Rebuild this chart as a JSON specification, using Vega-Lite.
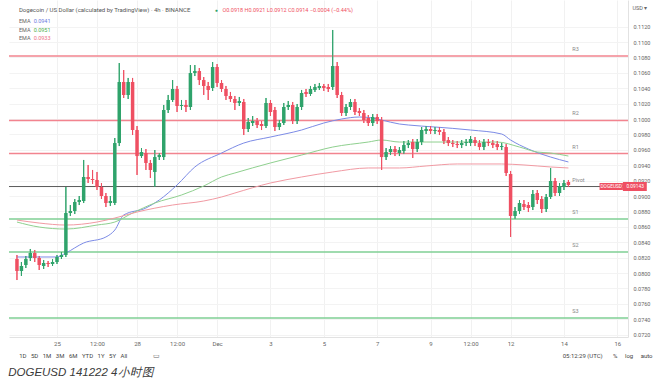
{
"$schema":"https://vega.github.io/schema/vega-lite/v6.json",
"width":619,"height":337,
"autosize":{"type":"pad"},
"padding":{"left":8,"top":0,"right":0,"bottom":0},
"background":"white",
"config":{"view":{"stroke":null},"font":"Roboto","axis":{"labelOverlap":false}},
"title":{"text":"DOGEUSD 141222 4小时图","orient":"bottom","anchor":"start","offset":7,"fontSize":11.5,"fontStyle":"italic","fontWeight":"normal","color":"#3a3a3a","font":"Liberation Sans"},
"datasets":{
"one":[{}],
"candles":[
{"t":"2022-11-23T12:00:00Z","o":0.08182,"h":0.08234,"l":0.07909,"c":0.08026},
{"t":"2022-11-23T16:00:00Z","o":0.08026,"h":0.08143,"l":0.07961,"c":0.08091},
{"t":"2022-11-23T20:00:00Z","o":0.08104,"h":0.08221,"l":0.08065,"c":0.08182},
{"t":"2022-11-24T00:00:00Z","o":0.08195,"h":0.08312,"l":0.08156,"c":0.08260},
{"t":"2022-11-24T04:00:00Z","o":0.08260,"h":0.08299,"l":0.08143,"c":0.08195},
{"t":"2022-11-24T08:00:00Z","o":0.08195,"h":0.08221,"l":0.08039,"c":0.08104},
{"t":"2022-11-24T12:00:00Z","o":0.08091,"h":0.08169,"l":0.08052,"c":0.08130},
{"t":"2022-11-24T16:00:00Z","o":0.08130,"h":0.08156,"l":0.08078,"c":0.08117},
{"t":"2022-11-24T20:00:00Z","o":0.08117,"h":0.08182,"l":0.08091,"c":0.08143},
{"t":"2022-11-25T00:00:00Z","o":0.08143,"h":0.08234,"l":0.08117,"c":0.08208},
{"t":"2022-11-25T04:00:00Z","o":0.08208,"h":0.08273,"l":0.08182,"c":0.08234},
{"t":"2022-11-25T08:00:00Z","o":0.08234,"h":0.09117,"l":0.08208,"c":0.08779},
{"t":"2022-11-25T12:00:00Z","o":0.08779,"h":0.08883,"l":0.08740,"c":0.08805},
{"t":"2022-11-25T16:00:00Z","o":0.08805,"h":0.08961,"l":0.08766,"c":0.08922},
{"t":"2022-11-25T20:00:00Z","o":0.08922,"h":0.09000,"l":0.08883,"c":0.08948},
{"t":"2022-11-26T00:00:00Z","o":0.08935,"h":0.09468,"l":0.08909,"c":0.09247},
{"t":"2022-11-26T04:00:00Z","o":0.09247,"h":0.09403,"l":0.09169,"c":0.09221},
{"t":"2022-11-26T08:00:00Z","o":0.09221,"h":0.09338,"l":0.09156,"c":0.09208},
{"t":"2022-11-26T12:00:00Z","o":0.09208,"h":0.09312,"l":0.09078,"c":0.09117},
{"t":"2022-11-26T16:00:00Z","o":0.09117,"h":0.09169,"l":0.08961,"c":0.09000},
{"t":"2022-11-26T20:00:00Z","o":0.09000,"h":0.09039,"l":0.08857,"c":0.08909},
{"t":"2022-11-27T00:00:00Z","o":0.08909,"h":0.09000,"l":0.08870,"c":0.08935},
{"t":"2022-11-27T04:00:00Z","o":0.08909,"h":0.09753,"l":0.08883,"c":0.09688},
{"t":"2022-11-27T08:00:00Z","o":0.09688,"h":0.10727,"l":0.09649,"c":0.10481},
{"t":"2022-11-27T12:00:00Z","o":0.10481,"h":0.10636,"l":0.10273,"c":0.10312},
{"t":"2022-11-27T16:00:00Z","o":0.10312,"h":0.10533,"l":0.10260,"c":0.10481},
{"t":"2022-11-27T20:00:00Z","o":0.10481,"h":0.10533,"l":0.09792,"c":0.09857},
{"t":"2022-11-28T00:00:00Z","o":0.09857,"h":0.09909,"l":0.09273,"c":0.09519},
{"t":"2022-11-28T04:00:00Z","o":0.09519,"h":0.09623,"l":0.09494,"c":0.09571},
{"t":"2022-11-28T08:00:00Z","o":0.09558,"h":0.09610,"l":0.09338,"c":0.09429},
{"t":"2022-11-28T12:00:00Z","o":0.09429,"h":0.09468,"l":0.09234,"c":0.09338},
{"t":"2022-11-28T16:00:00Z","o":0.09312,"h":0.09597,"l":0.09117,"c":0.09506},
{"t":"2022-11-28T20:00:00Z","o":0.09506,"h":0.09558,"l":0.09468,"c":0.09532},
{"t":"2022-11-29T00:00:00Z","o":0.09506,"h":0.10182,"l":0.09468,"c":0.10117},
{"t":"2022-11-29T04:00:00Z","o":0.10117,"h":0.10312,"l":0.10078,"c":0.10247},
{"t":"2022-11-29T08:00:00Z","o":0.10247,"h":0.10506,"l":0.10221,"c":0.10390},
{"t":"2022-11-29T12:00:00Z","o":0.10390,"h":0.10429,"l":0.10091,"c":0.10169},
{"t":"2022-11-29T16:00:00Z","o":0.10169,"h":0.10247,"l":0.10117,"c":0.10182},
{"t":"2022-11-29T20:00:00Z","o":0.10182,"h":0.10247,"l":0.10091,"c":0.10156},
{"t":"2022-11-30T00:00:00Z","o":0.10156,"h":0.10701,"l":0.10117,"c":0.10597},
{"t":"2022-11-30T04:00:00Z","o":0.10597,"h":0.10701,"l":0.10558,"c":0.10623},
{"t":"2022-11-30T08:00:00Z","o":0.10623,"h":0.10662,"l":0.10442,"c":0.10506},
{"t":"2022-11-30T12:00:00Z","o":0.10506,"h":0.10545,"l":0.10312,"c":0.10429},
{"t":"2022-11-30T16:00:00Z","o":0.10429,"h":0.10481,"l":0.10247,"c":0.10377},
{"t":"2022-11-30T20:00:00Z","o":0.10403,"h":0.10740,"l":0.10364,"c":0.10675},
{"t":"2022-12-01T00:00:00Z","o":0.10675,"h":0.10714,"l":0.10416,"c":0.10468},
{"t":"2022-12-01T04:00:00Z","o":0.10468,"h":0.10506,"l":0.10351,"c":0.10390},
{"t":"2022-12-01T08:00:00Z","o":0.10390,"h":0.10429,"l":0.10247,"c":0.10299},
{"t":"2022-12-01T12:00:00Z","o":0.10299,"h":0.10351,"l":0.10221,"c":0.10260},
{"t":"2022-12-01T16:00:00Z","o":0.10260,"h":0.10299,"l":0.10117,"c":0.10208},
{"t":"2022-12-01T20:00:00Z","o":0.10208,"h":0.10286,"l":0.10169,"c":0.10234},
{"t":"2022-12-02T00:00:00Z","o":0.10221,"h":0.10260,"l":0.09792,"c":0.09870},
{"t":"2022-12-02T04:00:00Z","o":0.09870,"h":0.10013,"l":0.09831,"c":0.09961},
{"t":"2022-12-02T08:00:00Z","o":0.09948,"h":0.10039,"l":0.09909,"c":0.09974},
{"t":"2022-12-02T12:00:00Z","o":0.09974,"h":0.10013,"l":0.09883,"c":0.09922},
{"t":"2022-12-02T16:00:00Z","o":0.09935,"h":0.09974,"l":0.09857,"c":0.09909},
{"t":"2022-12-02T20:00:00Z","o":0.09909,"h":0.10273,"l":0.09883,"c":0.10208},
{"t":"2022-12-03T00:00:00Z","o":0.10208,"h":0.10247,"l":0.10039,"c":0.10091},
{"t":"2022-12-03T04:00:00Z","o":0.10117,"h":0.10156,"l":0.09844,"c":0.09896},
{"t":"2022-12-03T08:00:00Z","o":0.09896,"h":0.09987,"l":0.09857,"c":0.09948},
{"t":"2022-12-03T12:00:00Z","o":0.09948,"h":0.10208,"l":0.09922,"c":0.10156},
{"t":"2022-12-03T16:00:00Z","o":0.10156,"h":0.10234,"l":0.10117,"c":0.10182},
{"t":"2022-12-03T20:00:00Z","o":0.10182,"h":0.10221,"l":0.09935,"c":0.09974},
{"t":"2022-12-04T00:00:00Z","o":0.09974,"h":0.10195,"l":0.09935,"c":0.10156},
{"t":"2022-12-04T04:00:00Z","o":0.10156,"h":0.10377,"l":0.10117,"c":0.10338},
{"t":"2022-12-04T08:00:00Z","o":0.10351,"h":0.10390,"l":0.10286,"c":0.10325},
{"t":"2022-12-04T12:00:00Z","o":0.10325,"h":0.10429,"l":0.10299,"c":0.10390},
{"t":"2022-12-04T16:00:00Z","o":0.10377,"h":0.10455,"l":0.10351,"c":0.10416},
{"t":"2022-12-04T20:00:00Z","o":0.10403,"h":0.10468,"l":0.10377,"c":0.10429},
{"t":"2022-12-05T00:00:00Z","o":0.10429,"h":0.10455,"l":0.10364,"c":0.10403},
{"t":"2022-12-05T04:00:00Z","o":0.10416,"h":0.10455,"l":0.10351,"c":0.10390},
{"t":"2022-12-05T08:00:00Z","o":0.10416,"h":0.11156,"l":0.10377,"c":0.10688},
{"t":"2022-12-05T12:00:00Z","o":0.10688,"h":0.10740,"l":0.10273,"c":0.10312},
{"t":"2022-12-05T16:00:00Z","o":0.10312,"h":0.10351,"l":0.10039,"c":0.10078},
{"t":"2022-12-05T20:00:00Z","o":0.10078,"h":0.10195,"l":0.10039,"c":0.10156},
{"t":"2022-12-06T00:00:00Z","o":0.10156,"h":0.10260,"l":0.10117,"c":0.10221},
{"t":"2022-12-06T04:00:00Z","o":0.10221,"h":0.10260,"l":0.10052,"c":0.10091},
{"t":"2022-12-06T08:00:00Z","o":0.10104,"h":0.10143,"l":0.10039,"c":0.10078},
{"t":"2022-12-06T12:00:00Z","o":0.10078,"h":0.10117,"l":0.09948,"c":0.09987},
{"t":"2022-12-06T16:00:00Z","o":0.10013,"h":0.10052,"l":0.09909,"c":0.09948},
{"t":"2022-12-06T20:00:00Z","o":0.09948,"h":0.10065,"l":0.09909,"c":0.10026},
{"t":"2022-12-07T00:00:00Z","o":0.10026,"h":0.10065,"l":0.09935,"c":0.09974},
{"t":"2022-12-07T04:00:00Z","o":0.09987,"h":0.10026,"l":0.09338,"c":0.09506},
{"t":"2022-12-07T08:00:00Z","o":0.09506,"h":0.09623,"l":0.09468,"c":0.09571},
{"t":"2022-12-07T12:00:00Z","o":0.09571,"h":0.09649,"l":0.09532,"c":0.09610},
{"t":"2022-12-07T16:00:00Z","o":0.09610,"h":0.09649,"l":0.09519,"c":0.09571},
{"t":"2022-12-07T20:00:00Z","o":0.09558,"h":0.09636,"l":0.09519,"c":0.09597},
{"t":"2022-12-08T00:00:00Z","o":0.09584,"h":0.09714,"l":0.09545,"c":0.09662},
{"t":"2022-12-08T04:00:00Z","o":0.09662,"h":0.09727,"l":0.09623,"c":0.09688},
{"t":"2022-12-08T08:00:00Z","o":0.09701,"h":0.09740,"l":0.09494,"c":0.09610},
{"t":"2022-12-08T12:00:00Z","o":0.09610,"h":0.09740,"l":0.09571,"c":0.09701},
{"t":"2022-12-08T16:00:00Z","o":0.09701,"h":0.09896,"l":0.09662,"c":0.09857},
{"t":"2022-12-08T20:00:00Z","o":0.09844,"h":0.09909,"l":0.09805,"c":0.09870},
{"t":"2022-12-09T00:00:00Z","o":0.09870,"h":0.09909,"l":0.09805,"c":0.09844},
{"t":"2022-12-09T04:00:00Z","o":0.09844,"h":0.09896,"l":0.09805,"c":0.09857},
{"t":"2022-12-09T08:00:00Z","o":0.09857,"h":0.09896,"l":0.09792,"c":0.09831},
{"t":"2022-12-09T12:00:00Z","o":0.09831,"h":0.09870,"l":0.09675,"c":0.09714},
{"t":"2022-12-09T16:00:00Z","o":0.09727,"h":0.09766,"l":0.09649,"c":0.09688},
{"t":"2022-12-09T20:00:00Z","o":0.09688,"h":0.09727,"l":0.09636,"c":0.09675},
{"t":"2022-12-10T00:00:00Z","o":0.09675,"h":0.09714,"l":0.09623,"c":0.09662},
{"t":"2022-12-10T04:00:00Z","o":0.09662,"h":0.09727,"l":0.09623,"c":0.09688},
{"t":"2022-12-10T08:00:00Z","o":0.09688,"h":0.09740,"l":0.09649,"c":0.09701},
{"t":"2022-12-10T12:00:00Z","o":0.09688,"h":0.09779,"l":0.09649,"c":0.09740},
{"t":"2022-12-10T16:00:00Z","o":0.09727,"h":0.09766,"l":0.09649,"c":0.09688},
{"t":"2022-12-10T20:00:00Z","o":0.09688,"h":0.09727,"l":0.09597,"c":0.09636},
{"t":"2022-12-11T00:00:00Z","o":0.09636,"h":0.09740,"l":0.09597,"c":0.09701},
{"t":"2022-12-11T04:00:00Z","o":0.09701,"h":0.09740,"l":0.09649,"c":0.09688},
{"t":"2022-12-11T08:00:00Z","o":0.09688,"h":0.09727,"l":0.09623,"c":0.09662},
{"t":"2022-12-11T12:00:00Z","o":0.09675,"h":0.09714,"l":0.09597,"c":0.09636},
{"t":"2022-12-11T16:00:00Z","o":0.09636,"h":0.09688,"l":0.09597,"c":0.09649},
{"t":"2022-12-11T20:00:00Z","o":0.09636,"h":0.09675,"l":0.09260,"c":0.09299},
{"t":"2022-12-12T00:00:00Z","o":0.09286,"h":0.09325,"l":0.08468,"c":0.08740},
{"t":"2022-12-12T04:00:00Z","o":0.08740,"h":0.08857,"l":0.08701,"c":0.08805},
{"t":"2022-12-12T08:00:00Z","o":0.08805,"h":0.08948,"l":0.08766,"c":0.08909},
{"t":"2022-12-12T12:00:00Z","o":0.08896,"h":0.08948,"l":0.08818,"c":0.08857},
{"t":"2022-12-12T16:00:00Z","o":0.08883,"h":0.08922,"l":0.08792,"c":0.08844},
{"t":"2022-12-12T20:00:00Z","o":0.08857,"h":0.09078,"l":0.08818,"c":0.09026},
{"t":"2022-12-13T00:00:00Z","o":0.09039,"h":0.09078,"l":0.08896,"c":0.08948},
{"t":"2022-12-13T04:00:00Z","o":0.08961,"h":0.09000,"l":0.08779,"c":0.08831},
{"t":"2022-12-13T08:00:00Z","o":0.08831,"h":0.09026,"l":0.08792,"c":0.08987},
{"t":"2022-12-13T12:00:00Z","o":0.08987,"h":0.09364,"l":0.08961,"c":0.09195},
{"t":"2022-12-13T16:00:00Z","o":0.09195,"h":0.09234,"l":0.09000,"c":0.09039},
{"t":"2022-12-13T20:00:00Z","o":0.09039,"h":0.09169,"l":0.09000,"c":0.09130},
{"t":"2022-12-14T00:00:00Z","o":0.09117,"h":0.09208,"l":0.09078,"c":0.09169},
{"t":"2022-12-14T04:00:00Z","o":0.09182,"h":0.09208,"l":0.09117,"c":0.09143}
],
"ema":[
{"s":"EMA1","t":"2022-11-23T12:00:00Z","v":0.08208},
{"s":"EMA1","t":"2022-11-25T00:00:00Z","v":0.08208},
{"s":"EMA1","t":"2022-11-25T08:00:00Z","v":0.08260},
{"s":"EMA1","t":"2022-11-26T00:00:00Z","v":0.08390},
{"s":"EMA1","t":"2022-11-26T20:00:00Z","v":0.08468},
{"s":"EMA1","t":"2022-11-27T04:00:00Z","v":0.08558},
{"s":"EMA1","t":"2022-11-27T12:00:00Z","v":0.08753},
{"s":"EMA1","t":"2022-11-28T08:00:00Z","v":0.08844},
{"s":"EMA1","t":"2022-11-28T20:00:00Z","v":0.08948},
{"s":"EMA1","t":"2022-11-29T12:00:00Z","v":0.09143},
{"s":"EMA1","t":"2022-11-30T04:00:00Z","v":0.09377},
{"s":"EMA1","t":"2022-12-01T04:00:00Z","v":0.09558},
{"s":"EMA1","t":"2022-12-02T00:00:00Z","v":0.09688},
{"s":"EMA1","t":"2022-12-03T00:00:00Z","v":0.09766},
{"s":"EMA1","t":"2022-12-04T04:00:00Z","v":0.09857},
{"s":"EMA1","t":"2022-12-05T00:00:00Z","v":0.09948},
{"s":"EMA1","t":"2022-12-05T16:00:00Z","v":0.10000},
{"s":"EMA1","t":"2022-12-06T08:00:00Z","v":0.10026},
{"s":"EMA1","t":"2022-12-06T20:00:00Z","v":0.10013},
{"s":"EMA1","t":"2022-12-07T04:00:00Z","v":0.09987},
{"s":"EMA1","t":"2022-12-07T20:00:00Z","v":0.09935},
{"s":"EMA1","t":"2022-12-08T04:00:00Z","v":0.09922},
{"s":"EMA1","t":"2022-12-09T04:00:00Z","v":0.09896},
{"s":"EMA1","t":"2022-12-10T12:00:00Z","v":0.09857},
{"s":"EMA1","t":"2022-12-11T16:00:00Z","v":0.09805},
{"s":"EMA1","t":"2022-12-12T00:00:00Z","v":0.09727},
{"s":"EMA1","t":"2022-12-12T16:00:00Z","v":0.09610},
{"s":"EMA1","t":"2022-12-13T12:00:00Z","v":0.09506},
{"s":"EMA1","t":"2022-12-14T04:00:00Z","v":0.09442},
{"s":"EMA2","t":"2022-11-23T12:00:00Z","v":0.08662},
{"s":"EMA2","t":"2022-11-24T08:00:00Z","v":0.08597},
{"s":"EMA2","t":"2022-11-25T08:00:00Z","v":0.08571},
{"s":"EMA2","t":"2022-11-26T12:00:00Z","v":0.08623},
{"s":"EMA2","t":"2022-11-27T04:00:00Z","v":0.08662},
{"s":"EMA2","t":"2022-11-27T20:00:00Z","v":0.08779},
{"s":"EMA2","t":"2022-11-28T16:00:00Z","v":0.08909},
{"s":"EMA2","t":"2022-11-29T16:00:00Z","v":0.09013},
{"s":"EMA2","t":"2022-11-30T12:00:00Z","v":0.09130},
{"s":"EMA2","t":"2022-12-01T04:00:00Z","v":0.09247},
{"s":"EMA2","t":"2022-12-01T16:00:00Z","v":0.09299},
{"s":"EMA2","t":"2022-12-03T00:00:00Z","v":0.09429},
{"s":"EMA2","t":"2022-12-04T04:00:00Z","v":0.09532},
{"s":"EMA2","t":"2022-12-05T08:00:00Z","v":0.09636},
{"s":"EMA2","t":"2022-12-06T16:00:00Z","v":0.09701},
{"s":"EMA2","t":"2022-12-07T04:00:00Z","v":0.09727},
{"s":"EMA2","t":"2022-12-07T20:00:00Z","v":0.09701},
{"s":"EMA2","t":"2022-12-08T20:00:00Z","v":0.09701},
{"s":"EMA2","t":"2022-12-10T00:00:00Z","v":0.09701},
{"s":"EMA2","t":"2022-12-11T12:00:00Z","v":0.09701},
{"s":"EMA2","t":"2022-12-12T08:00:00Z","v":0.09636},
{"s":"EMA2","t":"2022-12-13T00:00:00Z","v":0.09571},
{"s":"EMA2","t":"2022-12-13T12:00:00Z","v":0.09558},
{"s":"EMA2","t":"2022-12-14T04:00:00Z","v":0.09519},
{"s":"EMA3","t":"2022-11-23T12:00:00Z","v":0.08688},
{"s":"EMA3","t":"2022-11-24T08:00:00Z","v":0.08649},
{"s":"EMA3","t":"2022-11-25T08:00:00Z","v":0.08623},
{"s":"EMA3","t":"2022-11-26T12:00:00Z","v":0.08662},
{"s":"EMA3","t":"2022-11-27T04:00:00Z","v":0.08714},
{"s":"EMA3","t":"2022-11-28T00:00:00Z","v":0.08792},
{"s":"EMA3","t":"2022-11-29T08:00:00Z","v":0.08883},
{"s":"EMA3","t":"2022-11-30T12:00:00Z","v":0.08935},
{"s":"EMA3","t":"2022-12-01T04:00:00Z","v":0.08987},
{"s":"EMA3","t":"2022-12-01T16:00:00Z","v":0.09039},
{"s":"EMA3","t":"2022-12-03T00:00:00Z","v":0.09169},
{"s":"EMA3","t":"2022-12-04T04:00:00Z","v":0.09247},
{"s":"EMA3","t":"2022-12-05T08:00:00Z","v":0.09312},
{"s":"EMA3","t":"2022-12-06T16:00:00Z","v":0.09364},
{"s":"EMA3","t":"2022-12-07T20:00:00Z","v":0.09364},
{"s":"EMA3","t":"2022-12-08T20:00:00Z","v":0.09390},
{"s":"EMA3","t":"2022-12-10T00:00:00Z","v":0.09416},
{"s":"EMA3","t":"2022-12-11T16:00:00Z","v":0.09416},
{"s":"EMA3","t":"2022-12-12T12:00:00Z","v":0.09403},
{"s":"EMA3","t":"2022-12-13T12:00:00Z","v":0.09377},
{"s":"EMA3","t":"2022-12-14T04:00:00Z","v":0.09364}
],
"levels":[
{"level":"R3","price":0.10818},
{"level":"R2","price":0.09981},
{"level":"R1","price":0.09552},
{"level":"Pivot","price":0.09123},
{"level":"S1","price":0.08701},
{"level":"S2","price":0.08273},
{"level":"S3","price":0.07416}
]
},
"layer":[
{"data":{"name":"candles"},"mark":{"type":"rule","strokeWidth":1},
 "encoding":{
  "x":{"field":"t","type":"temporal",
   "scale":{"type":"utc","domain":[{"year":2022,"month":11,"date":23,"hours":9,"minutes":20,"utc":true},{"year":2022,"month":12,"date":16,"hours":5,"minutes":6,"utc":true}]},
   "axis":{"title":null,"grid":true,"gridColor":"#f1f1f1","ticks":false,"domainColor":"#e2e2e2","labelFontSize":6,"labelColor":"#666","labelPadding":3,"labelOverlap":false,"labelFlush":false,"tickCount":30,
    "values":[{"year":2022,"month":11,"date":25,"utc":true},{"year":2022,"month":11,"date":26,"hours":12,"utc":true},{"year":2022,"month":11,"date":28,"utc":true},{"year":2022,"month":11,"date":29,"hours":12,"utc":true},{"year":2022,"month":12,"date":1,"utc":true},{"year":2022,"month":12,"date":3,"utc":true},{"year":2022,"month":12,"date":5,"utc":true},{"year":2022,"month":12,"date":7,"utc":true},{"year":2022,"month":12,"date":9,"utc":true},{"year":2022,"month":12,"date":10,"hours":12,"utc":true},{"year":2022,"month":12,"date":12,"utc":true},{"year":2022,"month":12,"date":14,"utc":true},{"year":2022,"month":12,"date":16,"utc":true}],
    "labelExpr":"utchours(datum.value) == 12 ? '12:00' : (utcdate(datum.value) == 1 ? 'Dec' : '' + utcdate(datum.value))"}},
  "y":{"field":"l","type":"quantitative",
   "scale":{"domain":[0.07169,0.115455],"nice":false,"zero":false},
   "axis":{"orient":"right","title":"USD ▾","titleAngle":0,"titleAnchor":"end","titleAlign":"left","titleBaseline":"middle","titleX":4,"titleY":7,"titleFontSize":5.5,"titleFontWeight":"normal","titleColor":"#666","tickCount":40,
    "values":[0.072,0.074,0.076,0.078,0.080,0.082,0.084,0.086,0.088,0.090,0.092,0.094,0.096,0.098,0.100,0.102,0.104,0.106,0.108,0.110,0.112],
    "labelOverlap":false,"labelBound":false,
    "format":".4f","labelFontSize":5.5,"labelColor":"#666","ticks":false,"labelPadding":5,"domainColor":"#e2e2e2","grid":true,"gridColor":"#f3f3f3"}},
  "y2":{"field":"h"},
  "color":{"condition":{"test":"datum.c >= datum.o","value":"#2fa36b"},"value":"#ef4f62"}
 }},
{"data":{"name":"levels"},"mark":{"type":"rule"},
 "encoding":{
  "y":{"field":"price","type":"quantitative"},
  "stroke":{"field":"level","type":"nominal","legend":null,"scale":{"domain":["R3","R2","R1","Pivot","S1","S2","S3"],"range":["#f2848f","#f2848f","#f2848f","#5a5a5a","#7fcf95","#7fcf95","#7fcf95"]}},
  "strokeWidth":{"condition":{"test":"datum.level == 'Pivot'","value":1},"value":1.6}
 }},
{"data":{"name":"levels"},"mark":{"type":"text","align":"left","baseline":"bottom","dy":-4,"fontSize":5.5,"color":"#888"},
 "encoding":{
  "x":{"datum":{"year":2022,"month":12,"date":14,"hours":7,"minutes":30,"utc":true}},
  "y":{"field":"price","type":"quantitative"},
  "text":{"field":"level"}
 }},
{"data":{"name":"ema"},"mark":{"type":"line","strokeWidth":1,"interpolate":"monotone"},
 "encoding":{
  "x":{"field":"t","type":"temporal"},
  "y":{"field":"v","type":"quantitative"},
  "color":{"field":"s","type":"nominal","legend":null,"scale":{"domain":["EMA1","EMA2","EMA3"],"range":["#7c8be6","#8fd08f","#f19aa3"]}}
 }},
{"data":{"name":"candles"},"mark":{"type":"rule","strokeWidth":1},
 "encoding":{
  "x":{"field":"t","type":"temporal"},
  "y":{"field":"l","type":"quantitative"},
  "y2":{"field":"h"},
  "color":{"condition":{"test":"datum.c >= datum.o","value":"#2fa36b"},"value":"#ef4f62"}
 }},
{"data":{"name":"candles"},"mark":{"type":"bar","size":3.5},
 "encoding":{
  "x":{"field":"t","type":"temporal"},
  "y":{"field":"o","type":"quantitative"},
  "y2":{"field":"c"},
  "color":{"condition":{"test":"datum.c >= datum.o","value":"#2fa36b"},"value":"#ef4f62"}
 }},
{"data":{"name":"one"},"mark":{"type":"text","align":"left","baseline":"middle","fontSize":6,"color":"#555","text":"Dogecoin / US Dollar (calculated by TradingView) · 4h · BINANCE"},
 "encoding":{"x":{"datum":{"year":2022,"month":11,"date":23,"hours":13,"minutes":45,"utc":true}},"y":{"datum":0.11416}}},
{"data":{"name":"one"},"mark":{"type":"text","align":"left","baseline":"middle","fontSize":5,"color":"#2fa36b","text":"●"},
 "encoding":{"x":{"datum":{"year":2022,"month":11,"date":30,"hours":21,"minutes":50,"utc":true}},"y":{"datum":0.11416}}},
{"data":{"name":"one"},"mark":{"type":"text","align":"left","baseline":"middle","fontSize":5.5,"color":"#ef4f62","text":"O0.0918 H0.0921 L0.0912 C0.0914 −0.0004 (−0.44%)"},
 "encoding":{"x":{"datum":{"year":2022,"month":12,"date":1,"hours":4,"minutes":50,"utc":true}},"y":{"datum":0.11416}}},
{"data":{"name":"one"},"mark":{"type":"text","align":"left","baseline":"middle","fontSize":5.5,"color":"#666","text":"EMA"},
 "encoding":{"x":{"datum":{"year":2022,"month":11,"date":23,"hours":13,"minutes":45,"utc":true}},"y":{"datum":0.11279}}},
{"data":{"name":"one"},"mark":{"type":"text","align":"left","baseline":"middle","fontSize":5.5,"color":"#6b7be0","text":"0.0941"},
 "encoding":{"x":{"datum":{"year":2022,"month":11,"date":24,"hours":3,"utc":true}},"y":{"datum":0.11279}}},
{"data":{"name":"one"},"mark":{"type":"text","align":"left","baseline":"middle","fontSize":5.5,"color":"#666","text":"EMA"},
 "encoding":{"x":{"datum":{"year":2022,"month":11,"date":23,"hours":13,"minutes":45,"utc":true}},"y":{"datum":0.11162}}},
{"data":{"name":"one"},"mark":{"type":"text","align":"left","baseline":"middle","fontSize":5.5,"color":"#4cae4c","text":"0.0951"},
 "encoding":{"x":{"datum":{"year":2022,"month":11,"date":24,"hours":3,"utc":true}},"y":{"datum":0.11162}}},
{"data":{"name":"one"},"mark":{"type":"text","align":"left","baseline":"middle","fontSize":5.5,"color":"#666","text":"EMA"},
 "encoding":{"x":{"datum":{"year":2022,"month":11,"date":23,"hours":13,"minutes":45,"utc":true}},"y":{"datum":0.11052}}},
{"data":{"name":"one"},"mark":{"type":"text","align":"left","baseline":"middle","fontSize":5.5,"color":"#ec6f86","text":"0.0933"},
 "encoding":{"x":{"datum":{"year":2022,"month":11,"date":24,"hours":3,"utc":true}},"y":{"datum":0.11052}}},
{"data":{"name":"one"},"mark":{"type":"rect","color":"#ef4f62"},
 "encoding":{"x":{"datum":{"year":2022,"month":12,"date":15,"hours":8,"utc":true}},"x2":{"datum":{"year":2022,"month":12,"date":16,"hours":5,"utc":true}},"y":{"datum":0.09169},"y2":{"datum":0.09078}}},
{"data":{"name":"one"},"mark":{"type":"rect","color":"#ef4f62"},
 "encoding":{"x":{"datum":{"year":2022,"month":12,"date":16,"hours":5,"utc":true}},"x2":{"datum":{"year":2022,"month":12,"date":17,"hours":2,"minutes":30,"utc":true}},"y":{"datum":0.09182},"y2":{"datum":0.09065}}},
{"data":{"name":"one"},"mark":{"type":"text","align":"center","baseline":"middle","fontSize":4.8,"color":"white","text":"DOGEUSD"},
 "encoding":{"x":{"datum":{"year":2022,"month":12,"date":15,"hours":18,"minutes":30,"utc":true}},"y":{"datum":0.09123}}},
{"data":{"name":"one"},"mark":{"type":"text","align":"center","baseline":"middle","fontSize":4.8,"color":"white","text":"0.09143"},
 "encoding":{"x":{"datum":{"year":2022,"month":12,"date":16,"hours":16,"utc":true}},"y":{"datum":0.09123}}},
{"data":{"name":"one"},"mark":{"type":"text","align":"left","baseline":"middle","fontSize":6,"color":"#444","text":"1D\u00a0\u00a0\u00a05D\u00a0\u00a0\u00a01M\u00a0\u00a0\u00a03M\u00a0\u00a0\u00a06M\u00a0\u00a0\u00a0YTD\u00a0\u00a0\u00a01Y\u00a0\u00a0\u00a05Y\u00a0\u00a0\u00a0All"},
 "encoding":{"x":{"datum":{"year":2022,"month":11,"date":23,"hours":14,"utc":true}},"y":{"datum":0.06922}}},
{"data":{"name":"one"},"mark":{"type":"text","align":"left","baseline":"middle","fontSize":6.5,"color":"#666","text":"▭"},
 "encoding":{"x":{"datum":{"year":2022,"month":11,"date":28,"hours":14,"utc":true}},"y":{"datum":0.06922}}},
{"data":{"name":"one"},"mark":{"type":"text","align":"right","baseline":"middle","fontSize":6,"color":"#444","text":"05:12:29 (UTC)\u00a0\u00a0\u00a0\u00a0\u00a0\u00a0\u00a0%\u00a0\u00a0\u00a0\u00a0\u00a0log\u00a0\u00a0\u00a0\u00a0\u00a0auto"},
 "encoding":{"x":{"datum":{"year":2022,"month":12,"date":17,"hours":7,"minutes":40,"utc":true}},"y":{"datum":0.06922}}}
]
}
